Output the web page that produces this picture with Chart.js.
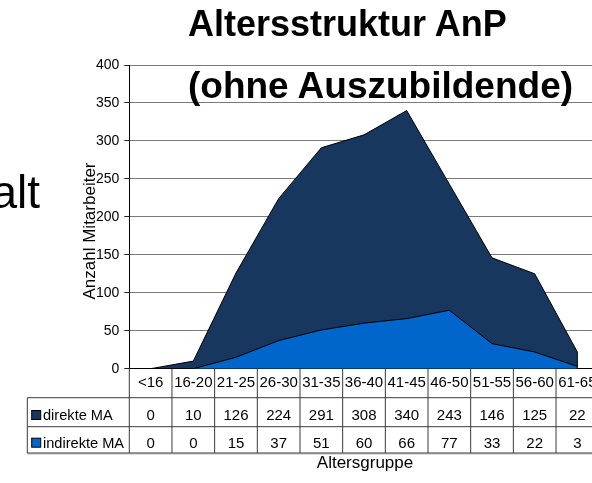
<!DOCTYPE html>
<html>
<head>
<meta charset="utf-8">
<script src="https://cdn.jsdelivr.net/npm/chart.js@4/dist/chart.umd.min.js"></script>
<style>
  html, body { margin: 0; padding: 0; background: #fff; width: 592px; height: 483px; overflow: hidden; }
  #wrap { position: relative; width: 592px; height: 483px; overflow: hidden; }
  canvas { position: absolute; left: 0; top: 0; }
  .t { position: absolute; font-family: "Liberation Sans", Arial, sans-serif; color: #000; white-space: nowrap; line-height: 1; }
  .title { font-weight: bold; left: 188px; }
</style>
</head>
<body>
<div id="wrap">
  <canvas id="c" width="600" height="483"></canvas>
  <div class="t" style="font-size:46px; left:-100px; width:140px; text-align:right; top:169px;">alt</div>
  <div class="t title" style="font-size:36px; top:5.5px;">Altersstruktur AnP</div>
  <div class="t title" style="font-size:37px; top:67px;">(ohne Auszubildende)</div>
  <div class="t" style="font-size:17px; left:89px; top:231px; transform: translate(-50%,-50%) rotate(-90deg);">Anzahl Mitarbeiter</div>
  <div class="t" style="font-size:17px; left:365px; top:453.5px; transform: translateX(-50%);">Altersgruppe</div>
</div>
<script>
const categories = ["<16", "16-20", "21-25", "26-30", "31-35", "36-40", "41-45", "46-50", "51-55", "56-60", "61-65"];
const direkteMA = [0, 10, 126, 224, 291, 308, 340, 243, 146, 125, 22];
const indirekteMA = [0, 0, 15, 37, 51, 60, 66, 77, 33, 22, 3];
const seriesNames = ["direkte MA", "indirekte MA"];
const yTicks = [0, 50, 100, 150, 200, 250, 300, 350, 400];

const darkColor = "#17375e";
const brightColor = "#0066cc";

const tablePlugin = {
  id: "dataTable",
  afterDatasetsDraw(chart) {
    const ctx = chart.ctx;
    const x = chart.scales.x;
    const area = chart.chartArea;
    const n = categories.length;
    const colW = (area.right - area.left) / n;
    const yTop = area.bottom;
    const row1 = 397.7, row2 = 426.7, row3 = 453;
    const leftX = 27.3;
    ctx.save();
    // vertical edge of dark area at last point
    const lastX = x.getPixelForValue(n - 1);
    const ys = chart.scales.y;
    ctx.strokeStyle = "#000";
    ctx.lineWidth = 1;
    ctx.beginPath();
    ctx.moveTo(lastX, ys.getPixelForValue(direkteMA[n - 1]));
    ctx.lineTo(lastX, ys.getPixelForValue(0));
    ctx.stroke();

    // table lines
    ctx.strokeStyle = "#3a3a3a";
    ctx.lineWidth = 1;
    ctx.beginPath();
    for (let i = 0; i <= n; i++) {
      const px = area.left + i * colW;
      ctx.moveTo(px, yTop);
      ctx.lineTo(px, row3);
    }
    ctx.moveTo(leftX, row1); ctx.lineTo(area.right, row1);
    ctx.moveTo(leftX, row2); ctx.lineTo(area.right, row2);
    ctx.moveTo(leftX, row3); ctx.lineTo(area.right, row3);
    ctx.moveTo(leftX, row1); ctx.lineTo(leftX, row3);
    ctx.stroke();
    ctx.strokeStyle = "rgba(0,0,0,0.25)";
    ctx.beginPath();
    ctx.moveTo(leftX, row3 + 1); ctx.lineTo(area.right, row3 + 1);
    ctx.stroke();

    ctx.fillStyle = "#000";
    ctx.font = "15px 'Liberation Sans', Arial, sans-serif";
    ctx.textAlign = "center";
    ctx.textBaseline = "alphabetic";
    for (let i = 0; i < n; i++) {
      const cx = x.getPixelForValue(i);
      ctx.fillText(categories[i], cx, 387);
      ctx.fillText(String(direkteMA[i]), cx, 420);
      ctx.fillText(String(indirekteMA[i]), cx, 447.7);
    }
    ctx.textAlign = "left";
    ctx.font = "14.6px 'Liberation Sans', Arial, sans-serif";
    const sw = [darkColor, brightColor];
    const base = [420, 447.7];
    for (let r = 0; r < 2; r++) {
      ctx.fillStyle = sw[r];
      ctx.fillRect(31.7, base[r] - 9.5, 9, 9);
      ctx.strokeStyle = "#000";
      ctx.strokeRect(31.7, base[r] - 9.5, 9, 9);
      ctx.fillStyle = "#000";
      ctx.fillText(seriesNames[r], 43, base[r]);
    }
    ctx.restore();
  }
};

new Chart(document.getElementById("c"), {
  type: "line",
  data: {
    labels: categories,
    datasets: [
      {
        label: seriesNames[1],
        data: indirekteMA,
        backgroundColor: brightColor,
        borderColor: "#000",
        borderWidth: 1,
        fill: "origin",
        tension: 0,
        pointRadius: 0
      },
      {
        label: seriesNames[0],
        data: direkteMA,
        backgroundColor: darkColor,
        borderColor: "#000",
        borderWidth: 1,
        fill: "origin",
        tension: 0,
        pointRadius: 0
      }
    ]
  },
  options: {
    responsive: false,
    animation: false,
    devicePixelRatio: 1,
    layout: { padding: { left: 0, top: 65, right: 1.3, bottom: 114.3 } },
    plugins: { legend: { display: false }, tooltip: { enabled: false }, title: { display: false } },
    scales: {
      x: {
        type: "category",
        offset: true,
        grid: { display: false, drawTicks: false },
        ticks: { display: false },
        border: { display: true, color: "#000", width: 1 },
        afterFit(s) { s.height = 0; }
      },
      y: {
        min: 0,
        max: 400,
        afterBuildTicks(s) { s.ticks = yTicks.map(v => ({ value: v })); },
        grid: { color: "#7a7a7a", lineWidth: 1, drawTicks: true, tickLength: 5, tickColor: "#222" },
        border: { display: true, color: "#000", width: 1 },
        ticks: {
          padding: 5,
          color: "#000",
          font: { family: "'Liberation Sans', Arial, sans-serif", size: 14 }
        },
        afterFit(s) { s.width = 129.3; }
      }
    }
  },
  plugins: [tablePlugin]
});
</script>
</body>
</html>
